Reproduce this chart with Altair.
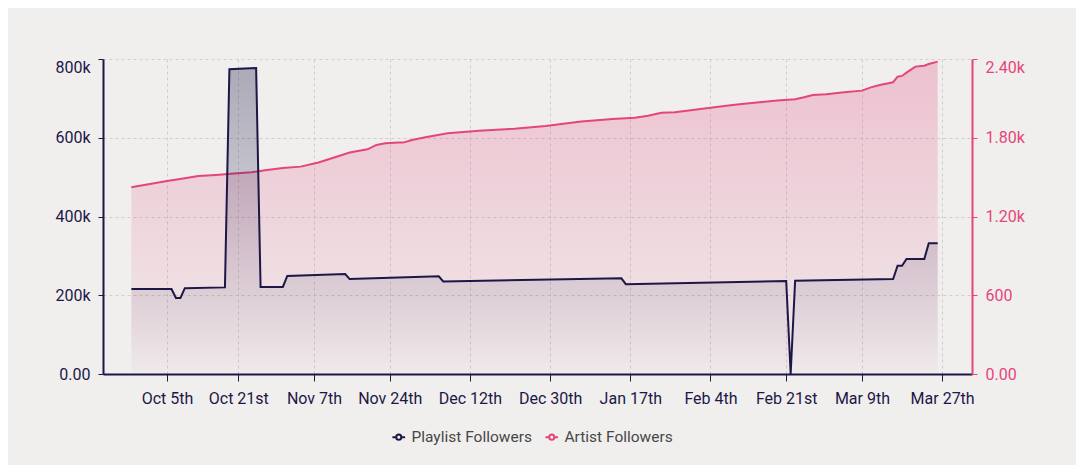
import altair as alt
import pandas as pd

# ---------------- data ----------------
series_names = ["Playlist Followers", "Artist Followers"]

playlist_dates = ["2023-09-27", "2023-10-06", "2023-10-07", "2023-10-08", "2023-10-09",
                  "2023-10-18", "2023-10-19", "2023-10-25", "2023-10-26", "2023-10-31",
                  "2023-11-01", "2023-11-14", "2023-11-15", "2023-12-05", "2023-12-06",
                  "2024-01-15", "2024-01-16", "2024-02-21", "2024-02-22", "2024-02-23",
                  "2024-03-16", "2024-03-17", "2024-03-18", "2024-03-19", "2024-03-23",
                  "2024-03-24", "2024-03-26"]
playlist_values = [216000, 216000, 193000, 193000, 218000,
                   220000, 774000, 777000, 221000, 221000,
                   249000, 254000, 241000, 248000, 235000,
                   243000, 228000, 236000, 0, 237000,
                   241000, 275000, 275000, 292000, 292000,
                   332000, 332000]

artist_dates = ["2023-09-27", "2023-10-05", "2023-10-09", "2023-10-12", "2023-10-16",
                "2023-10-20", "2023-10-24", "2023-10-27", "2023-10-31", "2023-11-04",
                "2023-11-08", "2023-11-11", "2023-11-15", "2023-11-19", "2023-11-21",
                "2023-11-23", "2023-11-26", "2023-11-27", "2023-11-29", "2023-12-02",
                "2023-12-07", "2023-12-14", "2023-12-22", "2023-12-29", "2024-01-06",
                "2024-01-13", "2024-01-18", "2024-01-21", "2024-01-24", "2024-01-27",
                "2024-01-31", "2024-02-04", "2024-02-08", "2024-02-11", "2024-02-15",
                "2024-02-19", "2024-02-23", "2024-02-25", "2024-02-27", "2024-03-01",
                "2024-03-05", "2024-03-09", "2024-03-11", "2024-03-13", "2024-03-16",
                "2024-03-17", "2024-03-18", "2024-03-19", "2024-03-21", "2024-03-23",
                "2024-03-24", "2024-03-26"]
artist_values = [1423, 1471, 1492, 1509, 1517,
                 1527, 1537, 1553, 1570, 1580,
                 1611, 1644, 1687, 1712, 1745,
                 1758, 1763, 1763, 1783, 1804,
                 1834, 1854, 1869, 1890, 1923,
                 1943, 1953, 1968, 1991, 1995,
                 2012, 2029, 2045, 2057, 2070,
                 2083, 2093, 2108, 2126, 2131,
                 2146, 2159, 2184, 2202, 2223,
                 2265, 2271, 2296, 2342, 2349,
                 2362, 2380]

tick_dates = ["2023-10-05", "2023-10-21", "2023-11-07", "2023-11-24", "2023-12-12",
              "2023-12-30", "2024-01-17", "2024-02-04", "2024-02-21", "2024-03-09",
              "2024-03-27"]
tick_labels = ["Oct 5th", "Oct 21st", "Nov 7th", "Nov 24th", "Dec 12th",
               "Dec 30th", "Jan 17th", "Feb 4th", "Feb 21st", "Mar 9th", "Mar 27th"]

left_ticks = [0, 200000, 400000, 600000, 800000]
right_ticks = [0, 600, 1200, 1800, 2400]

# ---------------- style ----------------
NAVY = "#1d1747"
PINK = "#e4457b"
BG = "#f0efee"
GRID = "#cfcdcc"
FONT = "Roboto"
FS = 16

pl = pd.DataFrame({"date": pd.to_datetime(playlist_dates), "value": playlist_values,
                   "series": series_names[0]})
ar = pd.DataFrame({"date": pd.to_datetime(artist_dates), "value": artist_values,
                   "series": series_names[1]})


def dt(s):
    y, m, d = (int(p) for p in s.split("-"))
    return alt.DateTime(year=y, month=m, date=d)


label_expr = "[{}][indexof([{}], timeFormat(datum.value, '%Y-%m-%d'))]".format(
    ",".join("'" + l + "'" for l in tick_labels),
    ",".join("'" + d + "'" for d in tick_dates),
)

x_enc = alt.X(
    "date:T",
    scale=alt.Scale(domain=[alt.DateTime(year=2023, month=9, date=20, hours=15),
                            alt.DateTime(year=2024, month=4, date=2, hours=17)]),
    axis=alt.Axis(values=[dt(d) for d in tick_dates], labelExpr=label_expr, title=None,
                  grid=True, gridColor=GRID, gridDash=[3, 3], gridWidth=1,
                  domainColor=NAVY, domainWidth=2, tickColor=NAVY, tickSize=7,
                  labelColor=NAVY, labelPadding=9, labelFontSize=FS, labelFont=FONT),
)

color_enc = alt.Color(
    "series:N",
    scale=alt.Scale(domain=series_names, range=[NAVY, PINK]),
    legend=alt.Legend(
        orient="none", legendX=288, legendY=370, direction="horizontal", title=None,
        symbolType="M-1,0H-0.4M0.4,0H1M-0.4,0A0.4,0.4,0,1,1,0.4,0A0.4,0.4,0,1,1,-0.4,0Z",
        symbolSize=160, symbolStrokeWidth=2, symbolFillColor=BG,
        labelFont=FONT, labelFontSize=15.5, labelColor="#474747",
        columnPadding=9, labelOffset=5, padding=0,
    ),
)

y_left = alt.Y(
    "value:Q",
    scale=alt.Scale(domain=[0, 800000], nice=False),
    axis=alt.Axis(orient="left", values=left_ticks, format=".3s", title=None,
                  grid=True, gridColor=GRID, gridDash=[3, 3], gridWidth=1,
                  domainColor=NAVY, domainWidth=2, tickColor=NAVY, tickSize=5,
                  labelColor=NAVY, labelPadding=8, labelFontSize=FS, labelFont=FONT,
                  labelBaseline={"condition": {"test": "datum.value == 800000", "value": "top"},
                                 "value": "middle"}),
)

y_right = alt.Y(
    "value:Q",
    scale=alt.Scale(domain=[0, 2400], nice=False),
    axis=alt.Axis(orient="right", values=right_ticks, format=".3s", title=None,
                  grid=False, domainColor=PINK, domainWidth=2, tickColor=PINK, tickSize=5,
                  labelColor=PINK, labelPadding=8, labelFontSize=FS, labelFont=FONT,
                  labelBaseline={"condition": {"test": "datum.value == 2400", "value": "top"},
                                 "value": "middle"}),
)

pl_grad = alt.Gradient(gradient="linear", x1=0, x2=0, y1=0, y2=1, stops=[
    alt.GradientStop(color="rgba(29,23,71,0.32)", offset=0),
    alt.GradientStop(color="rgba(29,23,71,0.0)", offset=1),
])
ar_grad = alt.Gradient(gradient="linear", x1=0, x2=0, y1=0, y2=1, stops=[
    alt.GradientStop(color="rgba(228,69,123,0.27)", offset=0),
    alt.GradientStop(color="rgba(228,69,123,0.03)", offset=1),
])

ar_area = alt.Chart(ar).mark_area(color=ar_grad).encode(x=x_enc, y=y_right)
ar_line = alt.Chart(ar).mark_line(strokeWidth=2).encode(x=x_enc, y=y_right, color=color_enc)
pl_area = alt.Chart(pl).mark_area(color=pl_grad).encode(x=x_enc, y=y_left)
pl_line = alt.Chart(pl).mark_line(strokeWidth=2).encode(x=x_enc, y=y_left, color=color_enc)

left = alt.layer(pl_area, pl_line)
right = alt.layer(ar_area, ar_line)

chart = (
    alt.layer(right, left)
    .resolve_scale(y="independent")
    .properties(width=869, height=315,
                autosize=alt.AutoSizeParams(type="none"),
                padding={"left": 95, "top": 51, "right": 104, "bottom": 91})
    .configure(background=BG)
    .configure_view(stroke=None)
)

chart.save("out.html", embed_options={"renderer": "svg", "actions": False})
